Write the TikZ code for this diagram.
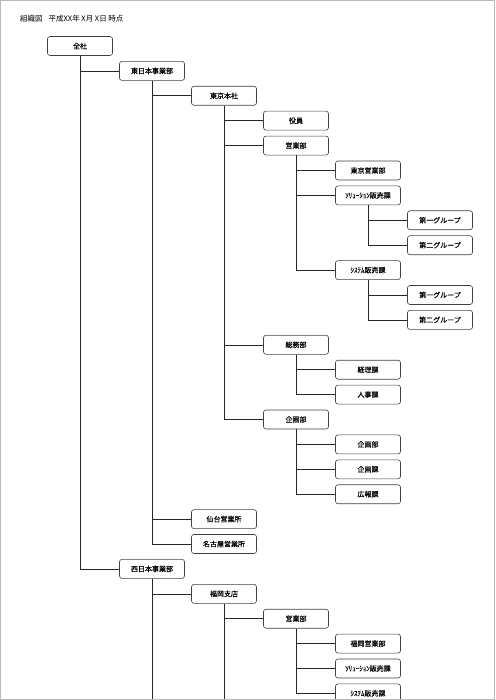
\documentclass[tikz,border=0pt]{standalone}
\usepackage{fontspec}
\newfontfamily\jpfont{Noto Sans CJK JP}
\newfontfamily\jpboxfont[FakeBold=0.2]{Noto Sans CJK JP}

\begin{document}
\begin{tikzpicture}[
  x=1pt, y=-1pt,
  unit/.style={draw=black!75, line width=0.6pt, rounded corners=2.5pt, fill=white, minimum width=65pt, minimum height=19pt, inner sep=0pt, font=\jpboxfont\fontsize{7}{8}\selectfont},
  link/.style={line width=0.6pt, black!85}
]
\useasboundingbox (0,0) rectangle (495,700);
\clip (0,0) rectangle (495,700);

% Title
\node[anchor=west, inner sep=0pt, font=\jpfont\fontsize{7.5}{9}\selectfont] (title) at (20,19) {組織図\hspace{6pt}平成XX年 X月 X日 時点};

% East
\node[unit] (zensha) at (80,46) {全社};
\node[unit] (higashi) at (152,70.9) {東日本事業部};
\node[unit] (tokyo) at (224,95.8) {東京本社};
\node[unit] (yakuin) at (296,120.7) {役員};
\node[unit] (eigyo) at (296,145.6) {営業部};
\node[unit] (tkeigyo) at (368,170.5) {東京営業部};
\node[unit] (solka) at (368,195.4) {ｿﾘｭｰｼｮﾝ販売課};
\node[unit] (sola) at (440,220.3) {第一グループ};
\node[unit] (solb) at (440,245.2) {第二グループ};
\node[unit] (syska) at (368,270.1) {ｼｽﾃﾑ販売課};
\node[unit] (sysa) at (440,295) {第一グループ};
\node[unit] (sysb) at (440,319.9) {第二グループ};
\node[unit] (somu) at (296,344.8) {総務部};
\node[unit] (keiri) at (368,369.7) {経理課};
\node[unit] (jinji) at (368,394.6) {人事課};
\node[unit] (kikaku) at (296,419.5) {企画部};
\node[unit] (kkbu) at (368,444.4) {企画部};
\node[unit] (kkka) at (368,469.3) {企画課};
\node[unit] (koho) at (368,494.2) {広報課};
\node[unit] (sendai) at (224,519.1) {仙台営業所};
\node[unit] (nagoya) at (224,544) {名古屋営業所};

% West
\node[unit] (nishi) at (152,568.9) {西日本事業部};
\node[unit] (fukuoka) at (224,593.8) {福岡支店};
\node[unit] (feigyo) at (296,618.7) {営業部};
\node[unit] (fkeigyo) at (368,643.6) {福岡営業部};
\node[unit] (fsolka) at (368,668.5) {ｿﾘｭｰｼｮﾝ販売課};
\node[unit] (fsysk) at (368,693.4) {ｼｽﾃﾑ販売課};

\coordinate (nishiend) at (152,700);
\coordinate (fukuokaend) at (224,700);

% Connectors
\draw[link] (zensha.south) |- (higashi.west);
\draw[link] (zensha.south) |- (nishi.west);
\draw[link] (higashi.south) |- (tokyo.west);
\draw[link] (higashi.south) |- (sendai.west);
\draw[link] (higashi.south) |- (nagoya.west);
\draw[link] (tokyo.south) |- (yakuin.west);
\draw[link] (tokyo.south) |- (eigyo.west);
\draw[link] (tokyo.south) |- (somu.west);
\draw[link] (tokyo.south) |- (kikaku.west);
\draw[link] (eigyo.south) |- (tkeigyo.west);
\draw[link] (eigyo.south) |- (solka.west);
\draw[link] (eigyo.south) |- (syska.west);
\draw[link] (solka.south) |- (sola.west);
\draw[link] (solka.south) |- (solb.west);
\draw[link] (syska.south) |- (sysa.west);
\draw[link] (syska.south) |- (sysb.west);
\draw[link] (somu.south) |- (keiri.west);
\draw[link] (somu.south) |- (jinji.west);
\draw[link] (kikaku.south) |- (kkbu.west);
\draw[link] (kikaku.south) |- (kkka.west);
\draw[link] (kikaku.south) |- (koho.west);
\draw[link] (nishi.south) -- (nishiend);
\draw[link] (nishi.south) |- (fukuoka.west);
\draw[link] (fukuoka.south) -- (fukuokaend);
\draw[link] (fukuoka.south) |- (feigyo.west);
\draw[link] (feigyo.south) |- (fkeigyo.west);
\draw[link] (feigyo.south) |- (fsolka.west);
\draw[link] (feigyo.south) |- (fsysk.west);

% Page frame
\draw[gray!55, line width=1pt] (0.5,0.5) rectangle (494.5,699.5);
\end{tikzpicture}
\end{document}
